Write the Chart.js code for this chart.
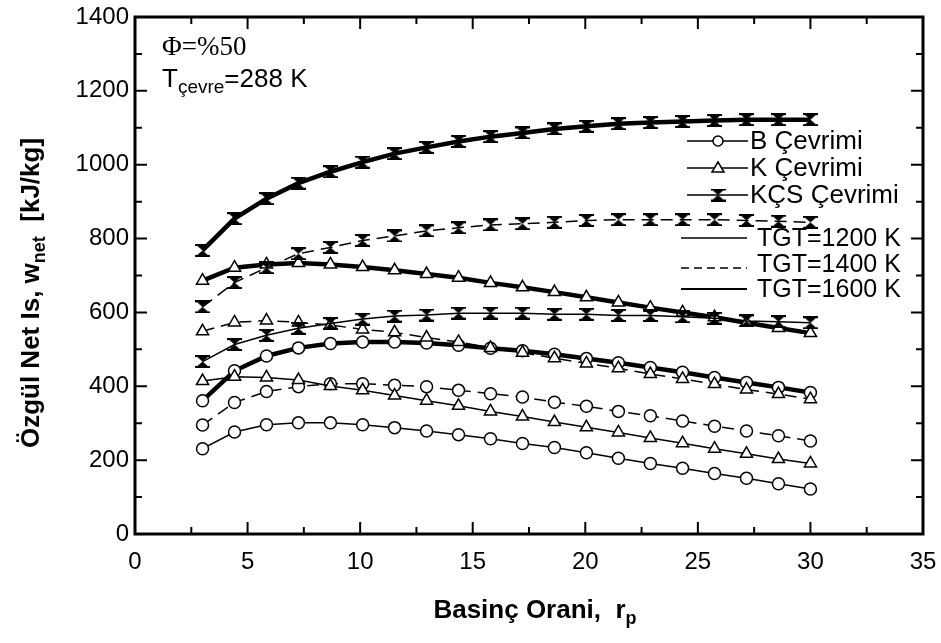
<!DOCTYPE html>
<html>
<head>
<meta charset="utf-8">
<script src="https://cdn.jsdelivr.net/npm/chart.js@4.4.1/dist/chart.umd.min.js"></script>
<style>
  html, body { margin: 0; padding: 0; background: #fff; }
  #box { width: 941px; height: 643px; }
</style>
</head>
<body>
<div id="box"><canvas id="chart"></canvas></div>
<script>
// pressure ratio values used by every curve
const rp = [3, 4.42, 5.84, 7.26, 8.68, 10.11, 11.53, 12.95, 14.37, 15.79, 17.21, 18.63, 20.05, 21.47, 22.89, 24.32, 25.74, 27.16, 28.58, 30];

// B cycle, net specific work [kJ/kg]
const b1200 = [231, 276, 296, 301, 301, 296, 288, 279, 269, 258, 245, 234, 220, 205, 191, 178, 164, 151, 136, 122];
const b1400 = [295, 356, 386, 399, 407, 407, 403, 399, 389, 380, 371, 357, 346, 332, 320, 306, 292, 279, 266, 252];
const b1600 = [361, 442, 482, 504, 516, 520, 520, 517, 511, 503, 496, 487, 475, 464, 451, 438, 424, 410, 397, 383];

// K cycle
const k1200 = [414, 426, 424, 417, 401, 389, 375, 361, 347, 332, 318, 303, 289, 275, 260, 246, 231, 217, 203, 191];
const k1400 = [549, 573, 578, 573, 566, 554, 546, 532, 520, 504, 491, 476, 462, 449, 433, 420, 406, 391, 379, 365];
const k1600 = [686, 721, 730, 734, 730, 723, 714, 704, 694, 680, 668, 655, 641, 627, 613, 600, 587, 572, 558, 544];

// KÇS cycle
const kcs1200 = [467, 513, 538, 557, 570, 582, 590, 593, 598, 598, 598, 595, 595, 592, 592, 588, 584, 577, 575, 572];
const kcs1400 = [615, 681, 721, 759, 776, 795, 807, 821, 829, 837, 840, 844, 849, 851, 851, 851, 851, 849, 847, 844];
const kcs1600 = [768, 854, 908, 950, 981, 1007, 1030, 1047, 1063, 1076, 1086, 1097, 1104, 1111, 1114, 1117, 1120, 1122, 1122, 1122];

const xTicks = [0, 5, 10, 15, 20, 25, 30, 35];
const yTicks = [0, 200, 400, 600, 800, 1000, 1200, 1400];

const cycleNames = ['B Çevrimi', 'K Çevrimi', 'KÇS Çevrimi'];
const tgtNames = ['TGT=1200 K', 'TGT=1400 K', 'TGT=1600 K'];

const SANS = '"Liberation Sans", Arial, sans-serif';
const SERIF = '"Liberation Serif", "Times New Roman", serif';

Chart.defaults.font.family = SANS;
Chart.defaults.color = '#000';

// filled hourglass marker for the KÇS curves
function hourglass() {
  const c = document.createElement('canvas');
  c.width = 15; c.height = 13;
  const g = c.getContext('2d');
  g.fillStyle = '#000';
  g.beginPath();
  g.moveTo(0.5, 0.5); g.lineTo(14.5, 0.5); g.lineTo(7.5, 6.5); g.closePath();
  g.moveTo(7.5, 6.5); g.lineTo(14.5, 12.5); g.lineTo(0.5, 12.5); g.closePath();
  g.fill();
  g.fillRect(0, 0, 15, 2);
  g.fillRect(0, 11, 15, 2);
  return c;
}
const hg = hourglass();

// line style per turbine inlet temperature
const tgtStyle = [
  { borderWidth: 1.5, borderDash: [] },
  { borderWidth: 1.5, borderDash: [12, 7] },
  { borderWidth: 4.5, borderDash: [] },
];
const marker = [
  { pointStyle: 'circle', pointRadius: 6 },
  { pointStyle: 'triangle', pointRadius: 7 },
  { pointStyle: hg, pointRadius: 7 },
];

function series(vals, cycle, tgt) {
  return {
    data: rp.map((x, i) => ({ x: x, y: vals[i] })),
    borderColor: '#000',
    backgroundColor: '#fff',
    borderWidth: tgtStyle[tgt].borderWidth,
    borderDash: tgtStyle[tgt].borderDash,
    pointStyle: marker[cycle].pointStyle,
    pointRadius: marker[cycle].pointRadius,
    pointBorderWidth: 1.5,
    pointBorderColor: '#000',
    pointBackgroundColor: '#fff',
    tension: 0,
  };
}

// draws text pieces side by side (for subscripts)
function richWidth(ctx, parts) {
  let w = 0;
  parts.forEach(p => { ctx.font = p.font; w += ctx.measureText(p.t).width; });
  return w;
}
function drawRich(ctx, parts, x, y) {
  ctx.textBaseline = 'middle';
  ctx.textAlign = 'left';
  parts.forEach(p => {
    ctx.font = p.font;
    ctx.fillText(p.t, x, y + (p.dy || 0));
    x += ctx.measureText(p.t).width;
  });
}

const framePlugin = {
  id: 'frame',
  afterDatasetsDraw(chart) {
    const { ctx, chartArea: a, scales } = chart;
    ctx.save();
    ctx.strokeStyle = '#000';
    ctx.lineWidth = 2;
    for (let v = 0; v <= 35; v += 2.5) {
      const px = scales.x.getPixelForValue(v);
      const len = v % 5 === 0 ? 12 : 7;
      ctx.beginPath();
      ctx.moveTo(px, a.bottom); ctx.lineTo(px, a.bottom - len);
      ctx.moveTo(px, a.top); ctx.lineTo(px, a.top + len);
      ctx.stroke();
    }
    for (let v = 0; v <= 1400; v += 100) {
      const py = scales.y.getPixelForValue(v);
      const len = v % 200 === 0 ? 12 : 7;
      ctx.beginPath();
      ctx.moveTo(a.left, py); ctx.lineTo(a.left + len, py);
      ctx.moveTo(a.right, py); ctx.lineTo(a.right - len, py);
      ctx.stroke();
    }
    ctx.lineWidth = 3;
    ctx.strokeRect(a.left, a.top, a.right - a.left, a.bottom - a.top);
    ctx.restore();
  },
  afterDraw(chart) {
    const { ctx, chartArea: a } = chart;
    ctx.save();
    ctx.fillStyle = '#000';

    // axis titles
    const bold = s => 'bold ' + s + 'px ' + SANS;
    const xt = [
      { t: 'Basinç Orani,  r', font: bold(26) },
      { t: 'p', font: bold(18), dy: 8 },
    ];
    drawRich(ctx, xt, (a.left + a.right) / 2 + 6 - richWidth(ctx, xt) / 2, 611);

    const yt = [
      { t: 'Özgül Net Is, w', font: bold(26) },
      { t: 'net', font: bold(18), dy: 8 },
      { t: '  [kJ/kg]', font: bold(26) },
    ];
    ctx.save();
    ctx.translate(32, 293);
    ctx.rotate(-Math.PI / 2);
    drawRich(ctx, yt, -richWidth(ctx, yt) / 2, 0);
    ctx.restore();

    // conditions note
    drawRich(ctx, [{ t: 'Φ=%50', font: '27px ' + SERIF }], 162, 48);
    drawRich(ctx, [
      { t: 'T', font: '26px ' + SANS },
      { t: 'çevre', font: '19px ' + SANS, dy: 8 },
      { t: '=288 K', font: '26px ' + SANS },
    ], 162, 80);

    // legend: markers per cycle
    ctx.strokeStyle = '#000';
    const rowsA = [141, 168, 195];
    cycleNames.forEach((name, i) => {
      const y = rowsA[i];
      ctx.lineWidth = 1.5;
      ctx.setLineDash([]);
      ctx.beginPath(); ctx.moveTo(687, y); ctx.lineTo(748, y); ctx.stroke();
      if (i === 0) {
        ctx.fillStyle = '#fff';
        ctx.beginPath(); ctx.arc(718, y, 5, 0, Math.PI * 2); ctx.fill(); ctx.stroke();
      } else if (i === 1) {
        ctx.fillStyle = '#fff';
        ctx.beginPath(); ctx.moveTo(718, y - 6); ctx.lineTo(724, y + 4); ctx.lineTo(712, y + 4); ctx.closePath();
        ctx.fill(); ctx.stroke();
      } else {
        ctx.drawImage(hg, 718 - 7.5, y - 6.5);
      }
      ctx.fillStyle = '#000';
      drawRich(ctx, [{ t: name, font: '26px ' + SANS }], 750, y + 1);
    });

    // legend: line style per TGT
    const rowsB = [238, 264, 289];
    tgtNames.forEach((name, i) => {
      const y = rowsB[i];
      const off = i === 1 ? 4 : 0;
      ctx.lineWidth = i === 2 ? 2 : 1.5;
      ctx.setLineDash(i === 1 ? [8, 5] : []);
      ctx.beginPath(); ctx.moveTo(681, y + off); ctx.lineTo(747, y + off); ctx.stroke();
      ctx.setLineDash([]);
      drawRich(ctx, [{ t: name, font: '25px ' + SANS }], 757, y + 1);
    });
    ctx.restore();
  }
};

new Chart(document.getElementById('chart'), {
  type: 'line',
  data: {
    datasets: [
      series(kcs1600, 2, 2), series(kcs1400, 2, 1), series(kcs1200, 2, 0),
      series(k1600, 1, 2), series(k1400, 1, 1), series(k1200, 1, 0),
      series(b1600, 0, 2), series(b1400, 0, 1), series(b1200, 0, 0),
    ],
  },
  plugins: [framePlugin],
  options: {
    responsive: true,
    maintainAspectRatio: false,
    animation: false,
    devicePixelRatio: 1,
    layout: { padding: { top: 17, right: 18, left: 0, bottom: 0 } },
    plugins: { legend: { display: false }, tooltip: { enabled: false } },
    scales: {
      x: {
        type: 'linear', min: 0, max: 35,
        afterBuildTicks: s => { s.ticks = xTicks.map(v => ({ value: v })); },
        ticks: { padding: 14, font: { size: 24 }, color: '#000', maxRotation: 0, callback: v => String(v) },
        grid: { display: false, drawTicks: false },
        border: { display: false },
        afterFit: s => { s.height = 109; s.paddingLeft = 0; s.paddingRight = 0; },
      },
      y: {
        type: 'linear', min: 0, max: 1400,
        afterBuildTicks: s => { s.ticks = yTicks.map(v => ({ value: v })); },
        ticks: { padding: 6, font: { size: 24 }, color: '#000', callback: v => String(v) },
        grid: { display: false, drawTicks: false },
        border: { display: false },
        afterFit: s => { s.width = 135; s.paddingTop = 0; s.paddingBottom = 0; },
      },
    },
  },
});
</script>
</body>
</html>
